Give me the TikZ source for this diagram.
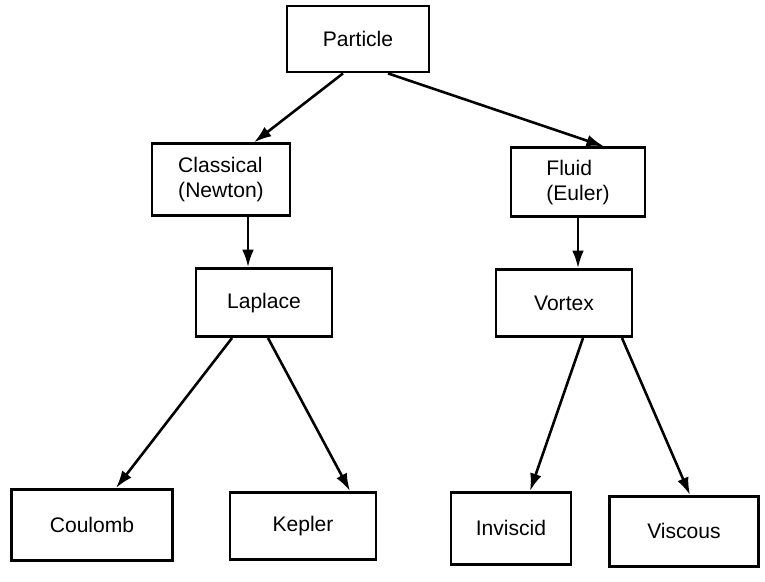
\documentclass[tikz,border=0pt]{standalone}
\usepackage{fontspec}
\setmainfont{Liberation Sans}
\usetikzlibrary{arrows.meta, positioning}
\tikzset{
  box/.style={
    rectangle, draw=black, line width=2.4pt,
    minimum width=4.2cm, minimum height=2.05cm,
    inner sep=2pt, align=left,
    font=\fontsize{18}{21}\selectfont
  },
  arrow/.style={-{Latex[length=15pt, width=10pt]}, line width=2.2pt},
}
\begin{document}
\begin{tikzpicture}

  \useasboundingbox (0,0) rectangle (22.95,-17.43);

  % Top level
  \node[box, minimum width=4.26cm, minimum height=1.98cm] (particle) at (10.74,-1.17) {Particle};

  % Second level
  \node[box, minimum width=4.14cm, minimum height=2.16cm,
        below=2.07cm of particle, xshift=-4.11cm] (classical) {Classical\\(Newton)};
  \node[box, minimum width=4.02cm, minimum height=2.07cm,
        below=2.19cm of particle, xshift=6.6cm] (fluid) {Fluid\\(Euler)};

  % Third level
  \node[box, minimum width=4.08cm, minimum height=2.04cm,
        below=1.5cm of classical, xshift=1.29cm] (laplace) {Laplace};
  \node[box, minimum width=4.08cm, minimum height=2.01cm,
        below=1.5cm of fluid, xshift=-0.42cm] (vortex) {Vortex};

  % Leaves
  \node[box, minimum width=4.83cm, minimum height=2.13cm,
        below=4.5cm of laplace, xshift=-5.16cm] (coulomb) {Coulomb};
  \node[box, minimum width=4.38cm, minimum height=2.01cm,
        below=4.59cm of laplace, xshift=1.17cm] (kepler) {Kepler};
  \node[box, minimum width=3.6cm, minimum height=2.16cm,
        below=4.59cm of vortex, xshift=-1.59cm] (inviscid) {Inviscid};
  \node[box, minimum width=4.47cm, minimum height=2.1cm,
        below=4.71cm of vortex, xshift=3.6cm] (viscous) {Viscous};

  % Arrows
  \draw[arrow] ([xshift=-0.45cm]particle.south) -- ([xshift=0.99cm]classical.north);
  \draw[arrow] ([xshift=0.9cm]particle.south)   -- ([xshift=0.78cm]fluid.north);
  \draw[arrow] ([xshift=0.81cm]classical.south) -- ([xshift=-0.48cm]laplace.north);
  \draw[arrow] (fluid.south)                    -- ([xshift=0.42cm]vortex.north);
  \draw[arrow] ([xshift=-0.96cm]laplace.south)  -- ([xshift=0.72cm]coulomb.north);
  \draw[arrow] ([xshift=0.12cm]laplace.south)   -- ([xshift=1.41cm]kepler.north);
  \draw[arrow] ([xshift=0.57cm]vortex.south)    -- ([xshift=0.57cm]inviscid.north);
  \draw[arrow] ([xshift=1.74cm]vortex.south)    -- ([xshift=0.18cm]viscous.north);

\end{tikzpicture}
\end{document}
